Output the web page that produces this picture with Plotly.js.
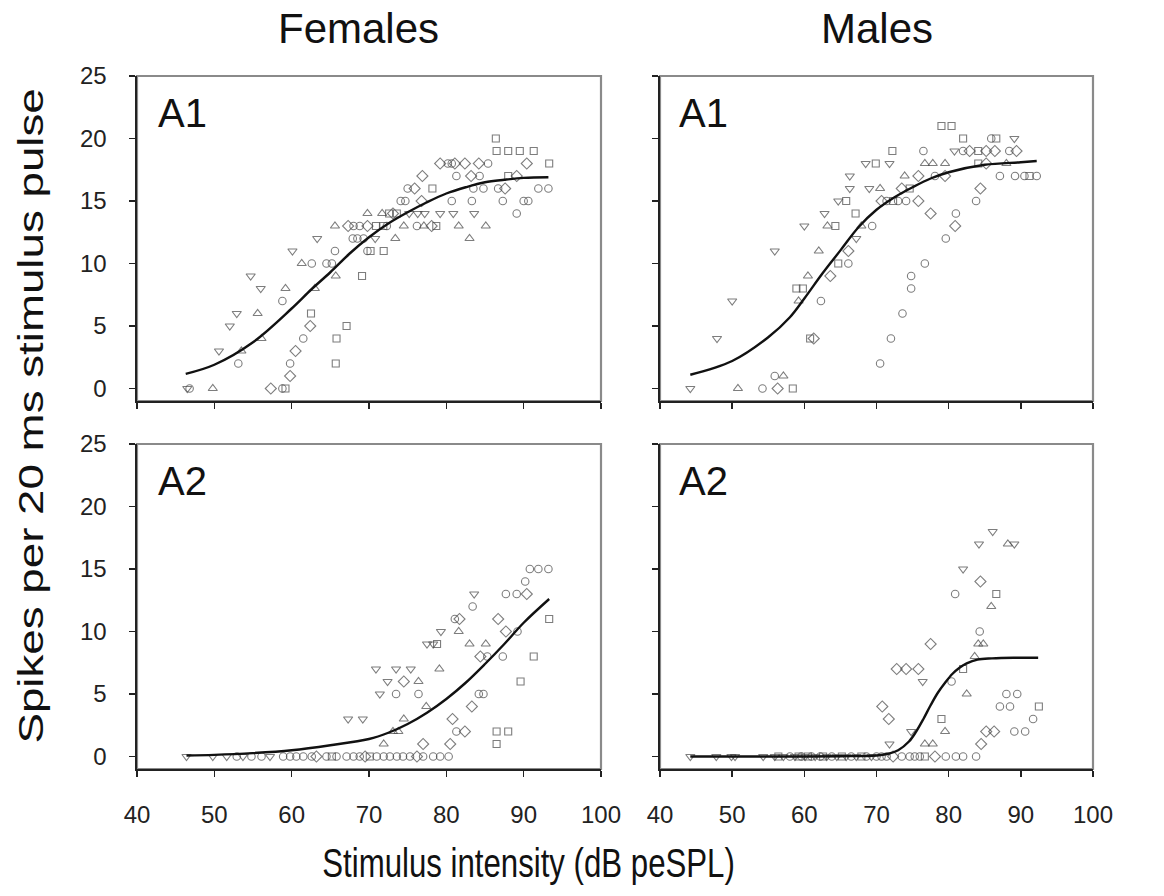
<!DOCTYPE html>
<html>
<head>
<meta charset="utf-8">
<script src="https://cdn.plot.ly/plotly-3.0.1.min.js"></script>
<style>
  html, body { margin: 0; padding: 0; background: #fff; }
  #chart { width: 1164px; height: 896px; }
</style>
</head>
<body>
<div id="chart"></div>
<script>
// ---------- Data ----------
// symbol codes: c = circle, s = square, d = diamond, tu = triangle-up, td = triangle-down
const xTicks = [40, 50, 60, 70, 80, 90, 100];
const yTicks = [0, 5, 10, 15, 20, 25];
const columnTitles = ["Females", "Males"];
const panelLabels = ["A1", "A1", "A2", "A2"];
const xAxisTitle = "Stimulus intensity (dB peSPL)";
const yAxisTitle = "Spikes per 20 ms stimulus pulse";

// Females, A1
const femA1_x = [46.5,46.8,49.8,57.3,58.8,59.2, 59.8, 53.1,59.8,65.7, 50.6,53.5,60.5, 56.1,61.5,65.8, 52.0,62.4,67.1,
  52.9,55.6,62.5, 58.8, 56.0,59.2,63.0, 54.7,65.7,69.1, 61.3,62.6,64.5,65.2, 60.1,65.6,69.8,70.2,71.9,
  63.3,67.9,68.5,69.3,70.8,73.4,83.0,
  65.6,67.3,68.0,68.8,69.8,70.9,71.85,72.3,74.5,76.2,77.1,78.1,78.7,81.6,85.1,
  69.8,71.7,72.6,73.1,73.6,75.2,76.3,77.2,79.2,80.9,83.6,89.1,
  74.1,74.7,76.8,80.7,83.3,87.3,90.0,90.6,
  75.0,75.9,78.2,83.5,84.8,86.7,87.6,91.9,93.2,
  76.9,81.3,83.2,84.3,88.0,89.1,
  79.2,80.2,80.7,81.1,82.4,84.2,85.4,90.4,93.3,
  86.5,88.0,89.5,91.3, 86.4];
const femA1_y = [0,0,0,0,0,0, 1, 2,2,2, 3,3,3, 4,4,4, 5,5,5,
  6,6,6, 7, 8,8,8, 9,9,9, 10,10,10,10, 11,11,11,11,11,
  12,12,12,12,12,12,12,
  13,13,13,13,13,13,13,13,13,13,13,13,13,13,13,
  14,14,14,14,14,14,14,14,14,14,14,14,
  15,15,15,15,15,15,15,15,
  16,16,16,16,16,16,16,16,16,
  17,17,17,17,17,17,
  18,18,18,18,18,18,18,18,18,
  19,19,19,19, 20];
const femA1_sym = ["td","c","tu","d","c","s", "d", "c","c","s", "td","tu","d", "tu","c","s", "td","d","s",
  "td","tu","s", "c", "td","tu","tu", "td","tu","s", "tu","c","c","c", "td","c","c","s","s",
  "td","c","c","c","td","tu","tu",
  "tu","d","c","c","d","s","s","c","tu","c","tu","d","s","tu","tu",
  "tu","tu","s","d","s","td","td","td","td","td","td","c",
  "c","c","d","c","c","c","c","c",
  "c","d","s","c","c","c","d","c","c",
  "d","c","d","c","s","d",
  "d","c","c","d","d","d","c","d","s",
  "s","s","s","s", "s"];
const femA1_fitX = [46.3, 50, 55, 60, 62.5, 65, 67.5, 70, 72.5, 75, 77.5, 80, 82.5, 85, 87.5, 90, 93.2];
const femA1_fitY = [1.17, 1.9, 3.7, 6.4, 7.9, 9.3, 10.8, 12.1, 13.2, 14.1, 14.9, 15.6, 16.1, 16.5, 16.7, 16.85, 16.9];

// Males, A1
const malA1_x = [44.2,50.8,54.2,56.3,58.4, 55.9,57.1, 70.5, 47.9,60.8,61.3,72.0, 73.6, 50.0,59.2,62.3,
  58.9,59.8,74.8, 60.5,63.6,74.8, 64.7,66.1,76.7, 55.9,62.0,66.1, 67.2,79.6,
  60.0,63.2,64.3,67.9,69.4,80.9, 62.8,67.1,77.5,81.0,
  64.7,65.8,70.7,71.4,72.3,73.0,74.1,75.8,83.8,
  66.3,69.0,70.5,73.5,74.6,84.4,
  66.3,73.9,75.8,78.1,79.5,87.1,89.2,90.5,91.2,92.2,
  68.5,69.9,71.8,76.7,77.8,79.5,84.1,85.2,88.0,
  72.2,76.5,80.8,82.0,82.9,84.1,85.2,86.4,88.4,89.4,
  82.0,85.9,86.6,89.1, 79.0,80.4];
const malA1_y = [0,0,0,0,0, 1,1, 2, 4,4,4,4, 6, 7,7,7,
  8,8,8, 9,9,9, 10,10,10, 11,11,11, 12,12,
  13,13,13,13,13,13, 14,14,14,14,
  15,15,15,15,15,15,15,15,15,
  16,16,16,16,16,16,
  17,17,17,17,17,17,17,17,17,17,
  18,18,18,18,18,18,18,18,18,
  19,19,19,19,19,19,19,19,19,19,
  20,20,20,20, 21,21];
const malA1_sym = ["td","tu","c","d","s", "c","tu", "c", "td","s","d","c", "c", "td","tu","c",
  "s","s","c", "tu","d","c", "s","c","c", "td","tu","d", "td","c",
  "td","tu","s","tu","c","d", "td","s","d","c",
  "td","s","d","c","s","c","c","d","c",
  "td","td","tu","d","s","d",
  "td","tu","d","c","d","c","c","c","s","c",
  "td","s","td","tu","tu","tu","s","d","tu",
  "s","c","td","c","d","s","d","d","c","d",
  "s","c","s","td", "s","s"];
const malA1_fitX = [44.2, 50, 55, 58, 60, 62.5, 65, 67.5, 70, 72.5, 75, 77.5, 80, 85, 90, 92.2];
const malA1_fitY = [1.1, 2.2, 4.1, 5.7, 7.2, 9.2, 11.05, 12.9, 14.3, 15.3, 16.1, 16.8, 17.3, 17.9, 18.1, 18.2];

// Females, A2
const femA2_x = [46.4,49.8,51.6,52.9,53.7,54.8,56.1,57.2,58.9,59.8,60.6,61.5,62.6,63.2,64.5,65.2,65.8,67.1,68.0,68.8,
  69.5,70.1,71.0,71.9,72.7,73.6,74.4,75.3,76.2,77.0,78.3,79.2,80.3,
  71.9,77.0,80.5,86.5, 73.1,73.8,81.3,82.4,86.5,88.0, 67.3,69.2,74.5,80.8, 77.4,83.3,
  71.4,73.5,76.4,84.2,84.8, 72.4,74.5,76.4,89.6, 70.9,73.5,75.4,79.1, 84.4,85.3,87.3,91.3,
  77.5,78.3,78.8,83.0,85.1, 79.3,81.6,87.7,89.2, 81.1,81.7,86.7,93.3, 83.4,
  83.6,87.7,89.1,90.4, 90.2, 90.8,91.9,93.2];
const femA2_y = [0,0,0,0,0,0,0,0,0,0,0,0,0,0,0,0,0,0,0,0,
  0,0,0,0,0,0,0,0,0,0,0,0,0,
  1,1,1,1, 2,2,2,2,2,2, 3,3,3,3, 4,4,
  5,5,5,5,5, 6,6,6,6, 7,7,7,7, 8,8,8,8,
  9,9,9,9,9, 10,10,10,10, 11,11,11,11, 12,
  13,13,13,13, 14, 15,15,15];
const femA2_sym = ["td","td","td","c","td","c","c","td","c","c","c","c","c","d","c","s","c","c","c","c",
  "d","s","c","c","c","c","c","c","d","c","c","c","c",
  "tu","d","d","s", "tu","tu","c","d","s","s", "td","td","tu","d", "tu","d",
  "td","c","c","c","c", "td","d","tu","s", "td","td","td","tu", "d","c","c","s",
  "td","td","s","tu","tu", "td","tu","d","c", "c","d","d","s", "c",
  "td","c","c","d", "c", "c","c","c"];
const femA2_fitX = [46.4, 50, 55, 60, 65, 70, 72.5, 75, 77.5, 80, 82.5, 85, 87.5, 90, 93.3];
const femA2_fitY = [0.08, 0.13, 0.27, 0.5, 0.9, 1.4, 1.9, 2.6, 3.5, 4.6, 5.9, 7.4, 9.0, 10.7, 12.6];

// Males, A2
const malA2_x = [44.2,47.8,49.9,50.4,54.3,55.9,56.4,57.1,58.0,58.7,59.2,59.6,60.1,60.5,61.0,61.5,62.2,62.6,63.1,63.8,
  64.5,65.2,65.8,66.5,67.2,67.9,68.6,69.3,70.0,70.7,71.4,72.3,73.5,74.6,75.3,76.0,76.7,78.1,79.6,81.0,82.0,83.8,
  71.8,76.7,77.8,84.5, 74.8,79.5,85.2,86.3,89.1,90.6, 71.7,79.0,91.7, 70.8,87.1,88.5,92.5,
  82.5,88.0,89.5, 76.4,80.4, 72.8,74.1,75.8,82.0, 83.6, 77.5,84.1,84.8, 84.3, 85.9,
  80.9,86.6, 84.4, 82.0, 84.2,88.2,89.1, 86.1];
const malA2_y = [0,0,0,0,0,0,0,0,0,0,0,0,0,0,0,0,0,0,0,0,
  0,0,0,0,0,0,0,0,0,0,0,0,0,0,0,0,0,0,0,0,0,0,
  1,1,1,1, 2,2,2,2,2,2, 3,3,3, 4,4,4,4,
  5,5,5, 6,6, 7,7,7,7, 8, 9,9,9, 10, 12,
  13,13, 14, 15, 17,17,17, 18];
const malA2_sym = ["td","td","td","td","td","td","s","td","c","td","s","c","td","s","c","td","c","s","td","c",
  "td","s","td","c","td","s","c","td","c","c","c","d","c","c","c","c","s","d","c","c","c","c",
  "td","tu","tu","d", "td","tu","d","d","c","c", "d","s","c", "d","c","c","s",
  "tu","c","c", "td","c", "d","d","d","s", "tu", "d","tu","tu", "c", "tu",
  "c","s", "d", "td", "td","tu","td", "td"];
const malA2_fitX = [44.2, 50, 55, 60, 65, 70, 71.5, 73, 74.5, 75.5, 76.5, 77.5, 78.5, 79.5, 80.5, 81.5, 82.5, 84, 86, 89, 92.4];
const malA2_fitY = [0, 0, 0, 0, 0.02, 0.08, 0.2, 0.5, 1.2, 2.0, 3.0, 4.1, 5.1, 5.9, 6.6, 7.1, 7.45, 7.75, 7.85, 7.9, 7.9];

// ---------- Styling ----------
const FONT = "Arial, 'Liberation Sans', Helvetica, sans-serif";
const symbolMap = { c: "circle-open", s: "square-open", d: "diamond-open", tu: "triangle-up-open", td: "triangle-down-open" };
const sizeMap = { c: 7.5, s: 7, d: 8.5, tu: 8, td: 8 };
const markColor = "#464646";

const panels = [
  { x: femA1_x, y: femA1_y, sym: femA1_sym, fx: femA1_fitX, fy: femA1_fitY, xa: "x",  ya: "y"  },
  { x: malA1_x, y: malA1_y, sym: malA1_sym, fx: malA1_fitX, fy: malA1_fitY, xa: "x2", ya: "y2" },
  { x: femA2_x, y: femA2_y, sym: femA2_sym, fx: femA2_fitX, fy: femA2_fitY, xa: "x3", ya: "y3" },
  { x: malA2_x, y: malA2_y, sym: malA2_sym, fx: malA2_fitX, fy: malA2_fitY, xa: "x4", ya: "y4" }
];

const traces = [];
panels.forEach(p => {
  traces.push({
    type: "scatter", mode: "markers", x: p.x, y: p.y, xaxis: p.xa, yaxis: p.ya,
    marker: {
      symbol: p.sym.map(s => symbolMap[s]),
      size: p.sym.map(s => sizeMap[s]),
      color: markColor,
      line: { color: markColor, width: 1.1 }
    },
    hoverinfo: "x+y", showlegend: false
  });
  traces.push({
    type: "scatter", mode: "lines", x: p.fx, y: p.fy, xaxis: p.xa, yaxis: p.ya,
    line: { color: "#111", width: 2.4, shape: "spline", smoothing: 1 },
    hoverinfo: "skip", showlegend: false
  });
});

const W = 1164, H = 896;
const leftDom  = [137 / W, 601 / W];
const rightDom = [660 / W, 1093 / W];
const topDom   = [(H - 401) / H, (H - 76) / H];
const botDom   = [(H - 769) / H, (H - 444) / H];

function xAxis(domain, anchor, showLabels) {
  return {
    domain: domain, anchor: anchor, range: [40, 100], tickvals: xTicks, ticktext: xTicks.map(String),
    ticks: "outside", ticklen: 6, tickwidth: 1.5, tickcolor: "#222",
    showline: true, linecolor: "#222", linewidth: 1.6,
    showgrid: false, zeroline: false, showticklabels: showLabels,
    ticklabelstandoff: 18,
    tickfont: { family: FONT, size: 24, color: "#222" }, fixedrange: true
  };
}
function yAxis(domain, anchor, showLabels) {
  return {
    domain: domain, anchor: anchor, range: [-1, 25], tickvals: yTicks, ticktext: yTicks.map(String),
    ticks: "outside", ticklen: 6, tickwidth: 1.5, tickcolor: "#222",
    showline: true, linecolor: "#222", linewidth: 1.6,
    showgrid: false, zeroline: false, showticklabels: showLabels,
    ticklabelstandoff: 18,
    tickfont: { family: FONT, size: 24, color: "#222" }, fixedrange: true
  };
}

const shapes = [["x", "y"], ["x2", "y2"], ["x3", "y3"], ["x4", "y4"]].map(([xa, ya]) => ({
  type: "rect", xref: xa + " domain", yref: ya + " domain", x0: 0, x1: 1, y0: 0, y1: 1,
  line: { color: "#8a8a8a", width: 2.2 }, fillcolor: "rgba(0,0,0,0)", layer: "below"
}));

const annotations = [
  { text: columnTitles[0], xref: "paper", yref: "paper", x: 358 / W, y: (H - 28) / H, showarrow: false,
    xanchor: "center", yanchor: "middle", font: { family: FONT, size: 42, color: "#111" } },
  { text: columnTitles[1], xref: "paper", yref: "paper", x: 877 / W, y: (H - 28) / H, showarrow: false,
    xanchor: "center", yanchor: "middle", font: { family: FONT, size: 42, color: "#111" } },
  { text: xAxisTitle, xref: "paper", yref: "paper", x: 528 / W, y: (H - 863) / H, showarrow: false,
    xanchor: "center", yanchor: "middle", font: { family: FONT, size: 40, color: "#111" } },
  { text: yAxisTitle, xref: "paper", yref: "paper", x: 30 / W, y: (H - 416) / H, showarrow: false,
    textangle: -90, xanchor: "center", yanchor: "middle", font: { family: FONT, size: 36, color: "#111" } }
];
[["x", "y"], ["x2", "y2"], ["x3", "y3"], ["x4", "y4"]].forEach(([xa, ya], i) => {
  annotations.push({
    text: panelLabels[i], xref: xa + " domain", yref: ya + " domain", x: 0.04, y: 0.885,
    xanchor: "left", yanchor: "middle", showarrow: false,
    font: { family: FONT, size: 40, color: "#111" }
  });
});

const layout = {
  width: W, height: H, margin: { l: 0, r: 0, t: 0, b: 0 },
  paper_bgcolor: "#fff", plot_bgcolor: "#fff", showlegend: false,
  xaxis: xAxis(leftDom, "y", false),   yaxis: yAxis(topDom, "x", true),
  xaxis2: xAxis(rightDom, "y2", false), yaxis2: yAxis(topDom, "x2", false),
  xaxis3: xAxis(leftDom, "y3", true),  yaxis3: yAxis(botDom, "x3", true),
  xaxis4: xAxis(rightDom, "y4", true), yaxis4: yAxis(botDom, "x4", false),
  shapes: shapes, annotations: annotations
};

// Axis-title glyph proportions in the reference are condensed/elongated; mimic with a scale on the text.
const titleScale = { 2: [0.78, 1], 3: [1.27, 1] };

Plotly.newPlot("chart", traces, layout, { displayModeBar: false, staticPlot: true }).then(gd => {
  const anns = gd.querySelectorAll(".annotation");
  Object.keys(titleScale).forEach(k => {
    const g = anns[+k];
    if (!g) return;
    const t = g.querySelector("text.annotation-text");
    if (!t) return;
    const bb = t.getBBox();
    const cx = bb.x + bb.width / 2, cy = bb.y + bb.height / 2;
    const [sx, sy] = titleScale[k];
    t.setAttribute("transform", `translate(${cx},${cy}) scale(${sx},${sy}) translate(${-cx},${-cy})`);
  });
});
</script>
</body>
</html>
